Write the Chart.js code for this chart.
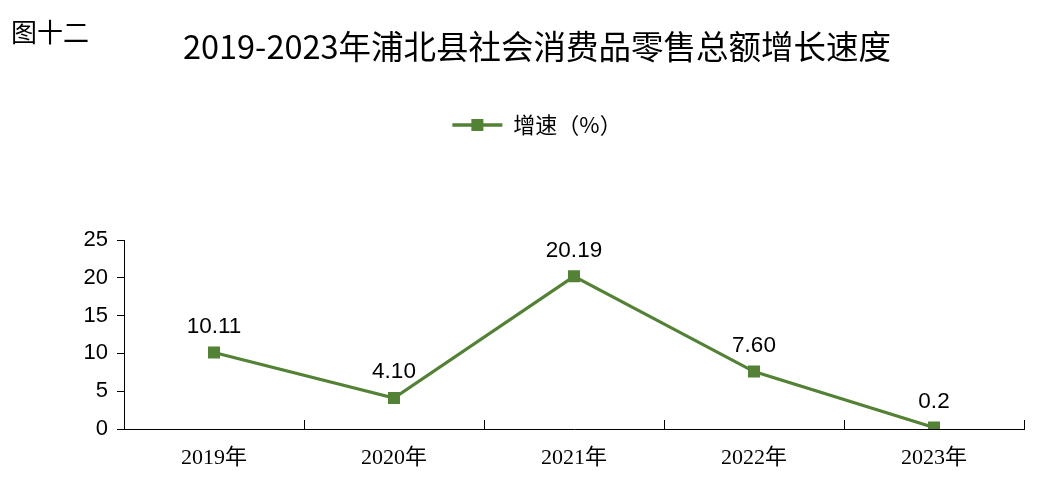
<!DOCTYPE html>
<html>
<head>
<meta charset="utf-8">
<script src="https://cdn.jsdelivr.net/npm/chart.js@4/dist/chart.umd.min.js"></script>
<style>
html,body{margin:0;padding:0;background:#fff;}
#wrap{position:relative;width:1062px;height:477px;}
</style>
</head>
<body>
<div id="wrap"><canvas id="c" width="1062" height="477"></canvas></div>
<script>
const categories = ["2019年", "2020年", "2021年", "2022年", "2023年"];
const growth = [10.11, 4.10, 20.19, 7.60, 0.2];
const valueLabels = ["10.11", "4.10", "20.19", "7.60", "0.2"];
const seriesName = "增速（%）";
const chartTitle = "2019-2023年浦北县社会消费品零售总额增长速度";
const figureLabel = "图十二";
const yTicks = [0, 5, 10, 15, 20, 25];

const GREEN = "#538135";

const extras = {
  id: "extras",
  beforeInit(chart) {
    const lg = chart.legend;
    if (lg) {
      const fit = lg.fit;
      lg.fit = function () { fit.call(this); this.height += 94; };
    }
  },
  afterDraw(chart) {
    const ctx = chart.ctx;
    const x = chart.scales.x, y = chart.scales.y;
    ctx.save();
    // upward category boundary ticks on x axis
    ctx.strokeStyle = "#000";
    ctx.lineWidth = 1;
    for (let i = 1; i <= categories.length; i++) {
      const px = Math.round(x.getPixelForValue(i - 0.5)) + 0.5;
      ctx.beginPath();
      ctx.moveTo(px, y.bottom);
      ctx.lineTo(px, y.bottom - 9);
      ctx.stroke();
    }
    // legend marker square on the legend line
    const lg = chart.legend;
    if (lg && lg.legendHitBoxes && lg.legendHitBoxes[0]) {
      const hb = lg.legendHitBoxes[0];
      const bw = lg.options.labels.boxWidth;
      const fs = lg.options.labels.font.size;
      const cx = hb.left + bw / 2;
      const cy = hb.top + fs / 2;
      ctx.fillStyle = GREEN;
      ctx.fillRect(cx - 6, cy - 6, 12, 12);
    }
    // figure label
    ctx.fillStyle = "#000";
    ctx.font = "26px 'Liberation Serif', 'Noto Sans CJK SC'";
    ctx.textBaseline = "middle";
    ctx.textAlign = "left";
    ctx.fillText(figureLabel, 11, 35);
    // data labels
    ctx.font = "22.5px 'Liberation Sans', Arial";
    ctx.textAlign = "center";
    ctx.textBaseline = "middle";
    const meta = chart.getDatasetMeta(0);
    meta.data.forEach((pt, i) => {
      ctx.fillText(valueLabels[i], pt.x, pt.y - 26);
    });
    ctx.restore();
  }
};

new Chart(document.getElementById("c"), {
  type: "line",
  data: {
    labels: categories,
    datasets: [{
      label: seriesName,
      data: growth,
      borderColor: GREEN,
      backgroundColor: GREEN,
      borderWidth: 3.2,
      pointStyle: "rect",
      pointRadius: 8.5,
      pointHoverRadius: 8.5,
      pointBackgroundColor: GREEN,
      pointBorderColor: GREEN,
      pointBorderWidth: 0,
      tension: 0
    }]
  },
  options: {
    responsive: false,
    animation: false,
    devicePixelRatio: 1,
    layout: { padding: { left: 50, right: 38, top: 0, bottom: 0 } },
    plugins: {
      tooltip: { enabled: false },
      title: {
        display: true,
        text: chartTitle,
        color: "#000",
        font: { family: "'Noto Sans CJK SC'", size: 32.5, weight: "normal" },
        padding: { top: 27, bottom: 38 }
      },
      legend: {
        display: true,
        position: "top",
        labels: {
          color: "#000",
          font: { family: "'Noto Sans CJK SC'", size: 22 },
          usePointStyle: false,
          boxWidth: 50,
          boxHeight: 3.5,
          generateLabels(chart) {
            return [{
              text: seriesName,
              fillStyle: GREEN,
              strokeStyle: GREEN,
              lineWidth: 0,
              hidden: false,
              datasetIndex: 0
            }];
          }
        }
      }
    },
    scales: {
      x: {
        type: "category",
        offset: true,
        afterFit(scale) { scale.height = 48; },
        grid: { display: true, drawOnChartArea: false, drawTicks: false, offset: true },
        border: { display: true, color: "#000", width: 1 },
        ticks: {
          color: "#000",
          padding: 16,
          font: { family: "'Liberation Serif', 'Noto Sans CJK SC'", size: 22 },
          maxRotation: 0
        }
      },
      y: {
        min: 0,
        max: 25,
        afterFit(scale) { scale.width = 74; },
        afterBuildTicks(scale) { scale.ticks = yTicks.map(v => ({ value: v })); },
        grid: { display: true, drawOnChartArea: false, drawTicks: true, tickLength: 7, color: "#000" },
        border: { display: true, color: "#000", width: 1 },
        ticks: {
          color: "#000",
          padding: 9,
          font: { family: "'Liberation Sans', Arial", size: 22 }
        }
      }
    }
  },
  plugins: [extras]
});
</script>
</body>
</html>
